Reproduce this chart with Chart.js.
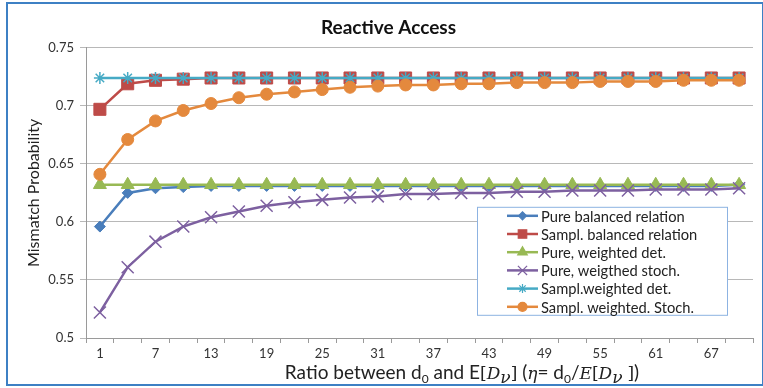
<!DOCTYPE html>
<html>
<head>
<meta charset="utf-8">
<script src="https://cdn.jsdelivr.net/npm/chart.js@4.4.1/dist/chart.umd.min.js"></script>
<style>
  html, body { margin: 0; padding: 0; background: #fff; }
  #wrap { position: relative; width: 763px; height: 388px; overflow: hidden; }
  #frame { position: absolute; left: 6px; top: 2px; width: 754px; height: 380px;
           border: 2px solid #3d80c4; pointer-events: none; }
  #xtitle { position: absolute; left: 462px; top: 360px; transform: translateX(-50%);
            white-space: nowrap; font-family: Lato, "Noto Sans", sans-serif; font-size: 19px; color: #222; }
  #xtitle .m { font-family: "DejaVu Serif", "Liberation Serif", serif; font-style: italic; font-size: 17px; }
  #xtitle .b { font-family: "DejaVu Serif", "Liberation Serif", serif; font-size: 17px; }
  #xtitle sub { font-size: 12px; vertical-align: -4px; line-height: 0; }
</style>
</head>
<body>
<div id="wrap">
  <canvas id="chart" width="763" height="388"></canvas>
  <div id="xtitle">Ratio between d<sub>0</sub> and E<span class="b">[</span><span class="m">D</span><sub class="m">ν</sub><span class="b">]</span> (<span class="m">η</span>= d<sub>0</sub>/<span class="m">E</span><span class="b">[</span><span class="m">D</span><sub class="m">ν</sub> <span class="b">]</span>)</div>
  <div id="frame"></div>
</div>
<script>
// ratio categories on the x axis
const ratios = [1, 4, 7, 10, 13, 16, 19, 22, 25, 28, 31, 34, 37, 40, 43, 46, 49, 52, 55, 58, 61, 64, 67, 70];

// mismatch probability per series
const pureBalanced = [0.596, 0.625, 0.629, 0.630, 0.631, 0.631, 0.631, 0.631, 0.631, 0.631, 0.631, 0.631,
                      0.631, 0.631, 0.631, 0.631, 0.631, 0.631, 0.631, 0.631, 0.631, 0.631, 0.631, 0.632];
const samplBalanced = [0.697, 0.719, 0.722, 0.723, 0.724, 0.724, 0.724, 0.724, 0.724, 0.724, 0.724, 0.724,
                       0.724, 0.724, 0.724, 0.724, 0.724, 0.724, 0.724, 0.724, 0.724, 0.724, 0.724, 0.724];
const pureWeightedDet = [0.632, 0.632, 0.632, 0.632, 0.632, 0.632, 0.632, 0.632, 0.632, 0.632, 0.632, 0.632,
                         0.632, 0.632, 0.632, 0.632, 0.632, 0.632, 0.632, 0.632, 0.632, 0.632, 0.632, 0.632];
const pureWeightedStoch = [0.522, 0.561, 0.583, 0.596, 0.604, 0.609, 0.614, 0.617, 0.619, 0.621, 0.622, 0.624,
                           0.624, 0.625, 0.625, 0.626, 0.626, 0.627, 0.627, 0.627, 0.628, 0.628, 0.628, 0.629];
const samplWeightedDet = [0.724, 0.724, 0.724, 0.724, 0.724, 0.724, 0.724, 0.724, 0.724, 0.724, 0.724, 0.724,
                          0.724, 0.724, 0.724, 0.724, 0.724, 0.724, 0.724, 0.724, 0.724, 0.724, 0.724, 0.724];
const samplWeightedStoch = [0.641, 0.671, 0.687, 0.696, 0.702, 0.707, 0.710, 0.712, 0.714, 0.716, 0.717, 0.718,
                            0.718, 0.719, 0.719, 0.720, 0.720, 0.720, 0.721, 0.721, 0.721, 0.722, 0.722, 0.722];

const seriesNames = ['Pure balanced relation', 'Sampl. balanced relation', 'Pure, weighted det.',
                     'Pure, weigthed stoch.', 'Sampl.weighted det.', 'Sampl. weighted. Stoch.'];
const yTicks = [0.5, 0.55, 0.6, 0.65, 0.7, 0.75];

const FONT = 'Lato, "Noto Sans", sans-serif';

function series(i, data, color, style, radius, legendRadius) {
    return {
        label: seriesNames[i],
        data: data,
        borderColor: color,
        backgroundColor: color,
        pointBackgroundColor: color,
        pointBorderColor: color,
        pointStyle: style,
        pointRadius: radius,
        pointBorderWidth: (style === 'crossRot' || style === 'star') ? 1.5 : 1,
        borderWidth: 2.5,
        tension: 0,
        order: 10 - i, // later series drawn on top, like the original
        legendRadius: legendRadius
    };
}

// legend box drawn inside the plot area
const innerLegend = {
    id: 'innerLegend',
    afterDraw(chart) {
        const ctx = chart.ctx;
        const area = chart.chartArea;
        const left = area.right - 276, top = area.top + 159;
        const w = 250, h = 108, rowH = 18.2;
        ctx.save();
        ctx.fillStyle = '#fff';
        ctx.fillRect(left, top, w, h);
        ctx.strokeStyle = '#8db3e2';
        ctx.lineWidth = 1;
        ctx.strokeRect(left + 0.5, top + 0.5, w, h);
        chart.data.datasets.forEach((ds, i) => {
            const cy = top + 9 + i * rowH;
            const x0 = left + 30, x1 = left + 61;
            ctx.strokeStyle = ds.borderColor;
            ctx.fillStyle = ds.borderColor;
            ctx.lineWidth = 2.5;
            ctx.beginPath();
            ctx.moveTo(x0, cy);
            ctx.lineTo(x1, cy);
            ctx.stroke();
            ctx.lineWidth = 1.2;
            Chart.helpers.drawPoint(ctx, {
                pointStyle: ds.pointStyle, rotation: 0,
                radius: ds.legendRadius, borderWidth: 1.2
            }, (x0 + x1) / 2, cy);
            ctx.fillStyle = '#222';
            ctx.font = '14.7px ' + FONT;
            ctx.textBaseline = 'middle';
            ctx.textAlign = 'left';
            ctx.fillText(ds.label, x1 + 3, cy + 1);
        });
        ctx.restore();
    }
};

const ctx = document.getElementById('chart').getContext('2d');
new Chart(ctx, {
    type: 'line',
    data: {
        labels: ratios,
        datasets: [
            series(0, pureBalanced, '#4a7ebb', 'rectRot', 5.5, 4),
            series(1, samplBalanced, '#be4b48', 'rect', 8.5, 6),
            series(2, pureWeightedDet, '#98b954', 'triangle', 7.5, 5.5),
            series(3, pureWeightedStoch, '#7d60a0', 'crossRot', 8.5, 6.5),
            series(4, samplWeightedDet, '#46aac5', 'star', 6, 4.5),
            series(5, samplWeightedStoch, '#e4893d', 'circle', 6, 4.5)
        ]
    },
    options: {
        responsive: false,
        animation: false,
        layout: { padding: { left: 20, right: 6, top: 7, bottom: 20 } },
        plugins: {
            legend: { display: false },
            tooltip: { enabled: false },
            title: {
                display: true,
                text: 'Reactive Access',
                color: '#111',
                font: { family: FONT, size: 19, weight: 'bold' },
                padding: { top: 9, bottom: 9 }
            }
        },
        scales: {
            x: {
                type: 'category',
                offset: true,
                afterFit(scale) { scale.height = 30; },
                grid: { drawOnChartArea: false, drawTicks: true, tickLength: 5, color: '#9a9a9a', offset: true },
                border: { display: true, color: '#9a9a9a', width: 1 },
                ticks: {
                    autoSkip: false,
                    maxRotation: 0,
                    color: '#333',
                    font: { family: FONT, size: 13 },
                    callback: (v, i) => (i % 2 === 0 ? String(ratios[i]) : '')
                }
            },
            y: {
                min: 0.5,
                max: 0.75,
                afterFit(scale) { scale.width = 66; },
                afterBuildTicks(scale) { scale.ticks = yTicks.map(v => ({ value: v })); },
                title: {
                    display: true,
                    text: 'Mismatch Probability',
                    color: '#222',
                    font: { family: FONT, size: 16 },
                    padding: { top: 4, bottom: 4 }
                },
                grid: { color: '#b8b8b8', lineWidth: 1, tickLength: 6 },
                border: { display: true, color: '#9a9a9a', width: 1 },
                ticks: {
                    color: '#333',
                    padding: 6,
                    font: { family: FONT, size: 13 },
                    callback: v => String(v)
                }
            }
        }
    },
    plugins: [innerLegend]
});
</script>
</body>
</html>
